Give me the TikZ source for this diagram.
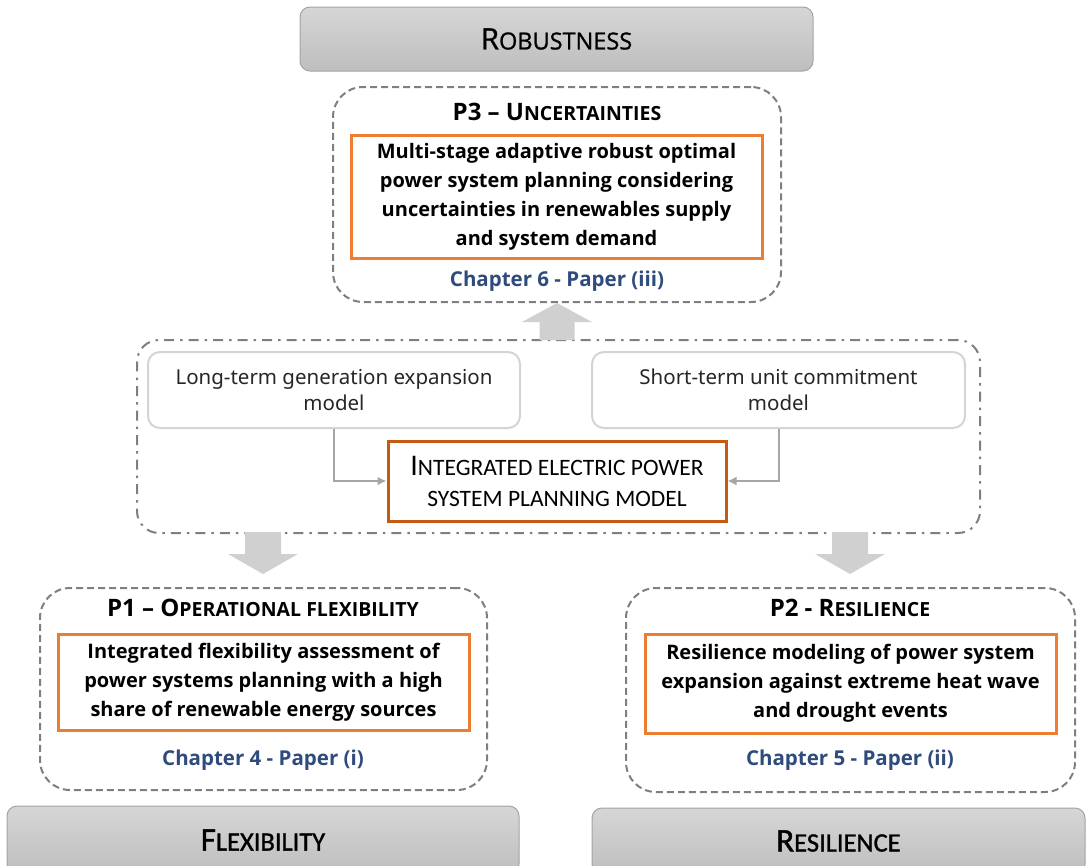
\documentclass[tikz,border=0pt]{standalone}
\usepackage{fontspec}
\setmainfont{Open Sans}
\newfontfamily\condfont{Carlito}
\newfontfamily\condheavy{Carlito}[FakeBold=1.2]
\newfontfamily\bannerfont{Open Sans}[FakeBold=1]
\newfontfamily\plainfont{Noto Sans}
\usetikzlibrary{calc,arrows.meta}

\definecolor{bannertop}{HTML}{D6D6D6}
\definecolor{bannerbot}{HTML}{BEBEBE}
\definecolor{bannerline}{HTML}{A3A3A3}
\definecolor{dashgray}{HTML}{7F7F7F}
\definecolor{lightline}{HTML}{D4D4D4}
\definecolor{accent}{HTML}{ED7D31}
\definecolor{accentdark}{HTML}{C55A11}
\definecolor{blockgray}{HTML}{D0D0D0}
\definecolor{connector}{HTML}{A6A6A6}
\definecolor{navy}{HTML}{2F4B7C}

% small-caps imitation: text set at a given smaller size
\newcommand{\lowcaps}[2]{{\fontsize{#1}{#1}\selectfont #2}}

\tikzset{
  banner/.style={draw=bannerline, line width=1pt, rounded corners=10pt,
    top color=bannertop, bottom color=bannerbot, inner sep=0pt, text=black},
  paperbox/.style={draw=dashgray, line width=2pt, dash pattern=on 7pt off 4pt,
    rounded corners=30pt, inner sep=0pt},
  modelbox/.style={draw=dashgray, line width=2pt,
    dash pattern=on 10pt off 6pt on 2.5pt off 6pt, rounded corners=22pt, inner sep=0pt},
  subbox/.style={draw=lightline, line width=2pt, rounded corners=12pt, fill=white,
    inner sep=0pt, align=center, font=\plainfont\fontsize{20.5}{26}\selectfont, text=black!85},
  resultbox/.style={draw=accent, line width=3pt, fill=white, inner sep=0pt,
    align=center, font=\bfseries\fontsize{20}{29}\selectfont},
  corebox/.style={draw=accentdark, line width=3pt, fill=white, inner sep=0pt,
    align=center, font=\condfont\fontsize{30}{31}\selectfont},
  titletext/.style={font=\bfseries\fontsize{24}{28}\selectfont, inner sep=0pt},
  chaptertext/.style={font=\bfseries\fontsize{20.5}{24}\selectfont, text=navy, inner sep=0pt},
  blockarrow/.style={fill=blockgray},
  conn/.style={draw=connector, line width=2pt, -{Latex[length=9pt,width=9pt]}}
}

\begin{document}
\begin{tikzpicture}[x=1pt,y=-1pt]
\useasboundingbox (0,0) rectangle (1092,865);
\clip (0,0) rectangle (1092,865);

% top banner
\node[banner, minimum width=513pt, minimum height=64pt] (rob) at (556.5,39)
  {\bannerfont\fontsize{29.5}{29.5}\selectfont R\lowcaps{23.5}{OBUSTNESS}};

% P3 paper
\node[paperbox, minimum width=448pt, minimum height=215pt] (p3) at (557,194.5) {};
\node[titletext] (p3title) at (557,112) {P3 – U\lowcaps{19.5}{NCERTAINTIES}};
\node[resultbox, minimum width=411pt, minimum height=123pt] (p3body) at (556.5,196.5)
  {Multi-stage adaptive robust optimal\\power system planning considering\\uncertainties in renewables supply\\and system demand};
\node[chaptertext] (p3ch) at (557,281) {Chapter 6 - Paper (iii)};

% integrated planning model
\node[modelbox, minimum width=843pt, minimum height=193pt] (mid) at (558.5,436.5) {};
\node[subbox, minimum width=372pt, minimum height=76pt] (lt) at (334,390)
  {Long-term generation expansion\\model};
\node[subbox, minimum width=373pt, minimum height=76pt] (st) at (778.5,390)
  {Short-term unit commitment\\model};
\node[corebox, minimum width=338pt, minimum height=80pt] (integ) at (557,481)
  {I\lowcaps{23.5}{NTEGRATED ELECTRIC POWER}\\\lowcaps{23.5}{SYSTEM PLANNING MODEL}};
\draw[conn] (lt.south) |- (integ.west);
\draw[conn] (st.south) |- (integ.east);

% P1 paper
\node[paperbox, minimum width=447pt, minimum height=202pt] (p1) at (263.5,689) {};
\node[titletext] (p1title) at (263,608) {P1 – O\lowcaps{19.5}{PERATIONAL FLEXIBILITY}};
\node[resultbox, minimum width=411pt, minimum height=96pt] (p1body) at (263.5,682)
  {Integrated flexibility assessment of\\power systems planning with a high\\share of renewable energy sources};
\node[chaptertext] (p1ch) at (263,760) {Chapter 4 - Paper (i)};

% P2 paper
\node[paperbox, minimum width=449pt, minimum height=204pt] (p2) at (850.5,690) {};
\node[titletext] (p2title) at (850,608) {P2 - R\lowcaps{19.5}{ESILIENCE}};
\node[resultbox, minimum width=411pt, minimum height=99pt] (p2body) at (850.5,683.5)
  {Resilience modeling of power system\\expansion against extreme heat wave\\and drought events};
\node[chaptertext] (p2ch) at (850,760) {Chapter 5 - Paper (ii)};

% bottom banners
\node[banner, minimum width=512pt, minimum height=68pt] (flex) at (263,840)
  {\condheavy\fontsize{33}{33}\selectfont F\lowcaps{26.5}{LEXIBILITY}};
\node[banner, minimum width=493pt, minimum height=66pt] (res) at (838.5,841)
  {\condheavy\fontsize{33}{33}\selectfont R\lowcaps{26.5}{ESILIENCE}};

% block arrows
\fill[blockarrow] (p3.south) -- ++(35,19) -- ++(-17.5,0) -- ++(0,18)
  -- ++(-35,0) -- ++(0,-18) -- ++(-17.5,0) -- cycle;
\fill[blockarrow] ($(p1.north)+(-0.5,-13)$) -- ++(35,-20) -- ++(-17,0) -- ++(0,-22)
  -- ++(-36,0) -- ++(0,22) -- ++(-17,0) -- cycle;
\fill[blockarrow] ($(p2.north)+(-0.5,-13)$) -- ++(35,-20) -- ++(-17,0) -- ++(0,-22)
  -- ++(-36,0) -- ++(0,22) -- ++(-17,0) -- cycle;
\end{tikzpicture}
\end{document}
